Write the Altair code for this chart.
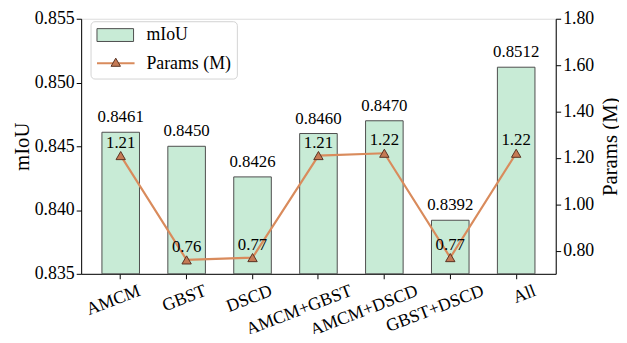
import altair as alt
import pandas as pd

categories = ["AMCM", "GBST", "DSCD", "AMCM+GBST", "AMCM+DSCD", "GBST+DSCD", "All"]
miou = [0.8461, 0.8450, 0.8426, 0.8460, 0.8470, 0.8392, 0.8512]
params = [1.21, 0.76, 0.77, 1.21, 1.22, 0.77, 1.22]
miou_ticks = [0.835, 0.840, 0.845, 0.850, 0.855]
param_ticks = [0.80, 1.00, 1.20, 1.40, 1.60, 1.80]

df = pd.DataFrame({"cat": categories, "miou": miou, "params": params})

FONT = "Liberation Serif"
BAR_FILL = "#c8ebd6"
BAR_STROKE = "#4d4d4d"
LINE_C = "#d98b5c"
TRI_FILL = "#c57a55"
TRI_STROKE = "#5a3322"

W, H = 480, 258

x_axis = alt.Axis(labelAngle=-21, labelAlign="right", labelBaseline="top",
                  labelOffset={"condition": {"test": "length(datum.label) > 5", "value": 30}, "value": 16},
                  labelPadding=3, labelFontSize=18, labelFont=FONT,
                  labelColor="black", tickColor="black", tickSize=5, ticks=True,
                  domainColor="black", labelOverlap=False)
x_scale = alt.Scale(paddingInner=0.43, paddingOuter=0.315)


def xenc():
    return alt.X("cat:N", sort=categories, title=None, scale=x_scale, axis=x_axis)


yscale_l = alt.Scale(domain=[0.835, 0.855], zero=False, nice=False)
yscale_r = alt.Scale(domain=[0.70, 1.80], zero=False, nice=False)

axis_l = alt.Axis(values=miou_ticks, format=".3f", labelFontSize=18, labelFont=FONT,
                  titleFontSize=21, titleFont=FONT, titleFontWeight="normal",
                  labelColor="black", titleColor="black", tickColor="black",
                  domainColor="black", tickSize=5, grid=False, titlePadding=2)
axis_r = alt.Axis(orient="right", values=param_ticks, format=".2f",
                  labelFontSize=18, labelFont=FONT, titleFontSize=21, titleFont=FONT,
                  titleFontWeight="normal", labelColor="black", titleColor="black",
                  tickColor="black", domainColor="black", tickSize=5, grid=False,
                  titleAngle=270, titleBaseline="top", titlePadding=6)


def yl():
    return alt.Y("miou:Q", scale=yscale_l, title="mIoU", axis=axis_l)


def yr():
    return alt.Y("params:Q", scale=yscale_r, title="Params (M)", axis=axis_r)


base = alt.Chart(df)

bars = base.mark_bar(fill=BAR_FILL, stroke=BAR_STROKE, strokeWidth=1).encode(
    x=xenc(), y=yl(), y2=alt.datum(0.835))

bar_text = base.mark_text(dy=-6, fontSize=17, font=FONT, color="black", baseline="bottom").encode(
    x=xenc(), y=yl(), text=alt.Text("miou:Q", format=".4f"))

left = alt.layer(bars, bar_text)

line = base.mark_line(color=LINE_C, strokeWidth=2.2).encode(x=xenc(), y=yr())

pts = base.mark_point(shape="triangle-up", size=90, filled=True, fill=TRI_FILL,
                      stroke=TRI_STROKE, strokeWidth=1, opacity=1).encode(x=xenc(), y=yr())

pt_text = base.mark_text(dy=-4, fontSize=17, font=FONT, color="black", baseline="bottom").encode(
    x=xenc(), y=yr(), text=alt.Text("params:Q", format=".2f"))

right = alt.layer(line, pts, pt_text)

leg = alt.Chart(pd.DataFrame({"k": [0]}))
leg_box = leg.mark_rect(fill="white", stroke="#cccccc", strokeWidth=1, cornerRadius=4, opacity=0.85).encode(
    x=alt.value(10), x2=alt.value(158), y=alt.value(3), y2=alt.value(61))
leg_sw = leg.mark_rect(fill=BAR_FILL, stroke=BAR_STROKE, strokeWidth=1).encode(
    x=alt.value(16), x2=alt.value(53), y=alt.value(10), y2=alt.value(23))
leg_t1 = leg.mark_text(text="mIoU", align="left", baseline="middle", fontSize=18, font=FONT, color="black").encode(
    x=alt.value(66), y=alt.value(17))
leg_ln = leg.mark_rule(color=LINE_C, strokeWidth=2.2).encode(
    x=alt.value(16), x2=alt.value(54), y=alt.value(45))
leg_tri = leg.mark_point(shape="triangle-up", size=90, filled=True, fill=TRI_FILL,
                         stroke=TRI_STROKE, strokeWidth=1, opacity=1).encode(
    x=alt.value(35), y=alt.value(44))
leg_t2 = leg.mark_text(text="Params (M)", align="left", baseline="middle", fontSize=18, font=FONT, color="black").encode(
    x=alt.value(66), y=alt.value(46))
legend = alt.layer(leg_box, leg_sw, leg_t1, leg_ln, leg_tri, leg_t2)

chart = alt.layer(left, right, legend).resolve_scale(y="independent").properties(
    width=W, height=H,
    autosize=alt.AutoSizeParams(type="none"),
    padding={"left": 74, "top": 9, "right": 64, "bottom": 59},
).configure_view(stroke="black", strokeWidth=1.3).configure(background="white")

chart.save("out.html", embed_options={"renderer": "svg", "actions": False})
